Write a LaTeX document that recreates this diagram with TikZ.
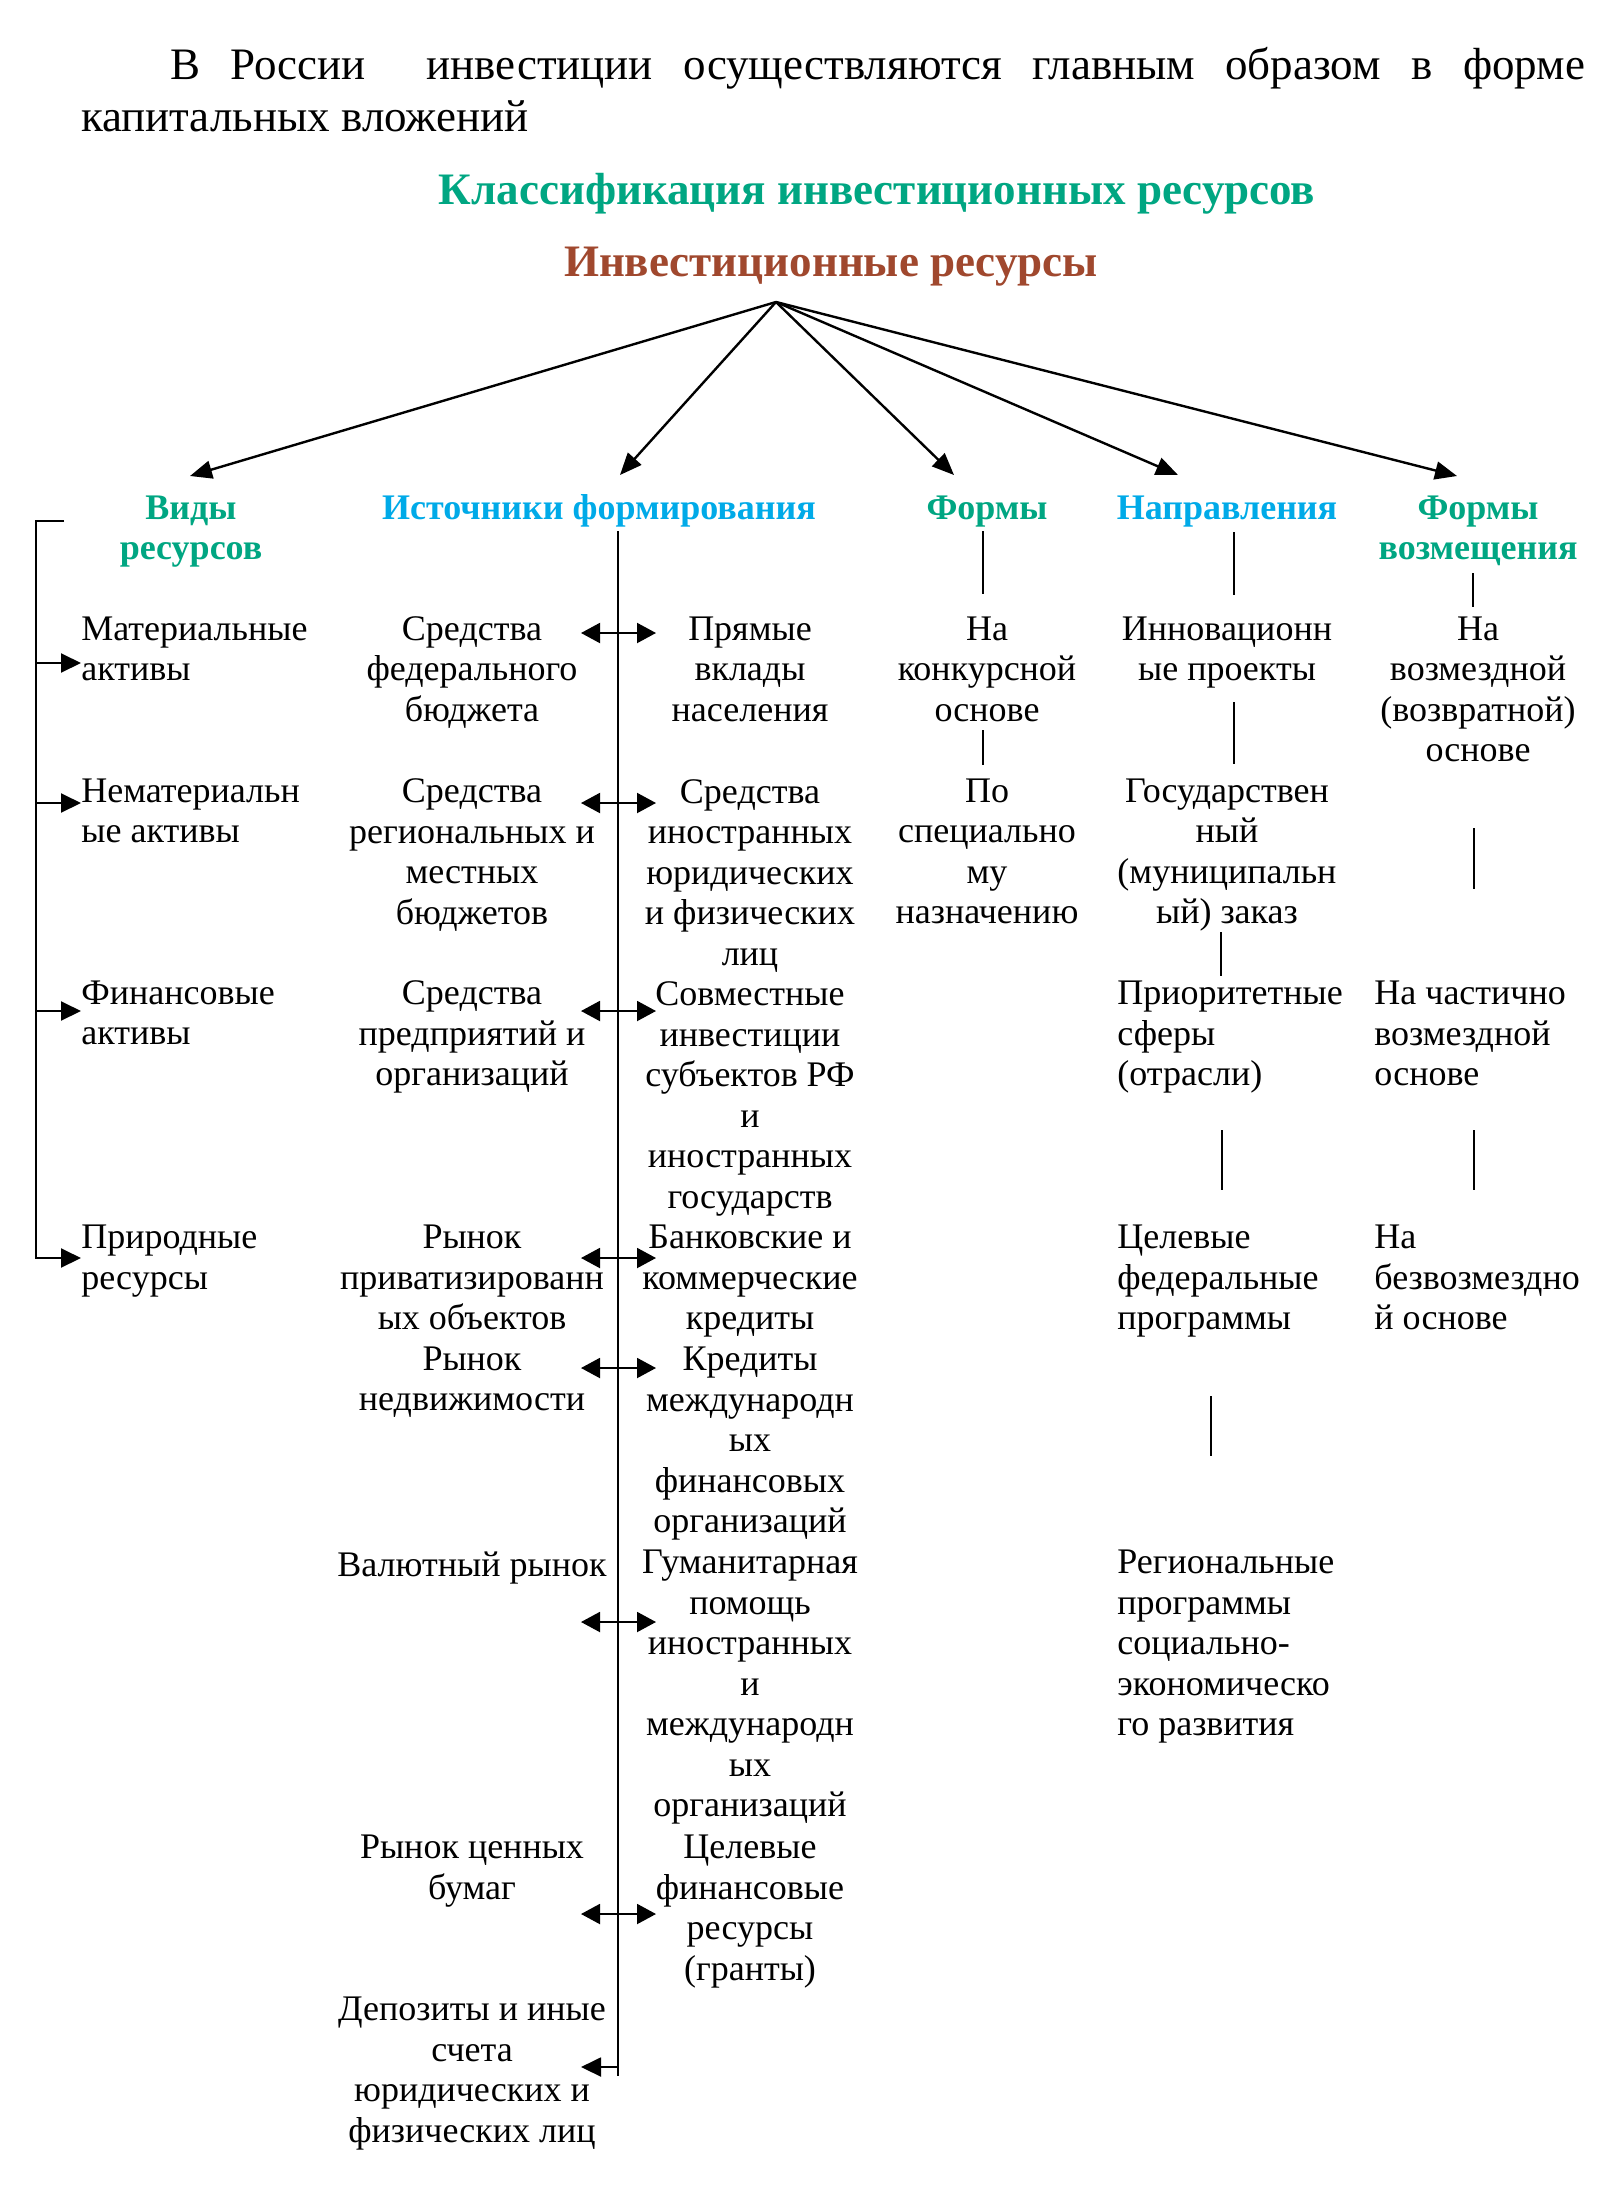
\documentclass[tikz,border=0pt]{standalone}
\usepackage{fontspec}
\setmainfont{Liberation Serif}
\usetikzlibrary{arrows.meta}
\definecolor{tgreen}{RGB}{0,166,130}
\definecolor{tcyan}{RGB}{0,170,232}
\definecolor{tbrown}{RGB}{160,72,46}
\tikzset{
  tx/.style={font=\fontsize{18}{20.25}\selectfont, align=center, inner sep=0pt, yshift=-2.5pt,
    execute at begin node=\strut, execute at end node=\strut},
  txl/.style={tx, align=left, anchor=west},
  hdr/.style={tx, font=\fontsize{18}{20.25}\selectfont\bfseries},
  ttl/.style={font=\fontsize{22.5}{26}\selectfont\bfseries, inner sep=0pt, yshift=-3pt,
    execute at begin node=\strut, execute at end node=\strut},
  ln/.style={line width=1pt},
  arr/.style={line width=1.2pt, -{Triangle[length=11pt,width=9pt]}},
  sarr/.style={line width=1pt, -{Triangle[length=10pt,width=9.5pt]}},
  darr/.style={line width=1pt, {Triangle[length=9.5pt,width=10pt]}-{Triangle[length=9.5pt,width=10pt]}}
}
\begin{document}
\begin{tikzpicture}[x=0.5pt,y=-0.5pt]
\fill[white] (0,0) rectangle (1600,2189);
\useasboundingbox (0,0) rectangle (1600,2189);

% top paragraph
\node[inner sep=0pt, text width=752pt, align=justify, font=\fontsize{22.5}{26}\selectfont] (para) at (833,90)
  {\hspace*{44.5pt}В России\ \ инвестиции осуществляются главным образом в форме\linebreak капитальных вложений};

\node[ttl, text=tgreen] (title) at (877,188) {Классификация инвестиционных ресурсов};
\node[ttl, text=tbrown] (res) at (831,260) {Инвестиционные ресурсы};

% headers
\node[hdr, text=tgreen] (hVid) at (191,529) {Виды\\ресурсов};
\node[hdr, text=tcyan] (hIst) at (599,506) {Источники формирования};
\node[hdr, text=tgreen] (hForm) at (987,506) {Формы};
\node[hdr, text=tcyan] (hNapr) at (1227,506) {Направления};
\node[hdr, text=tgreen] (hVoz) at (1478,529) {Формы\\возмещения};

% arrows from apex
\coordinate (apex) at (776,302);
\coordinate (eVid) at (190,476);
\coordinate (eIst) at (620,475);
\coordinate (eForm) at (954,475);
\coordinate (eNapr) at (1178,475);
\coordinate (eVoz) at (1457,476);
\draw[arr] (apex) -- (eVid);
\draw[arr] (apex) -- (eIst);
\draw[arr] (apex) -- (eForm);
\draw[arr] (apex) -- (eNapr);
\draw[arr] (apex) -- (eVoz);

% Виды ресурсов
\node[txl] (v1) at (81,650) {Материальные\\активы};
\node[txl] (v2) at (81,812) {Нематериальн\\ые активы};
\node[txl] (v3) at (81,1014) {Финансовые\\активы};
\node[txl] (v4) at (81,1258.5) {Природные\\ресурсы};

\coordinate (bTop) at (64,521);
\coordinate (bCorner) at (36,521);
\coordinate (b1) at (36,663);
\coordinate (b2) at (36,803);
\coordinate (b3) at (36,1011);
\coordinate (b4) at (36,1258);
\draw[sarr] (bTop) -- (bCorner) -- (b4) -- (b4 -| v4.west);
\draw[sarr] (b1) -- (b1 -| v1.west);
\draw[sarr] (b2) -- (b2 -| v2.west);
\draw[sarr] (b3) -- (b3 -| v3.west);

% Источники формирования
\coordinate (sTop) at (618,531);
\coordinate (sBot) at (618,2076);
\draw[ln] (sTop) -- (sBot);

\node[tx] (i1) at (472,670) {Средства\\федерального\\бюджета};
\node[tx] (i2) at (472,852.5) {Средства\\региональных и\\местных\\бюджетов};
\node[tx] (i3) at (472,1034.5) {Средства\\предприятий и\\организаций};
\node[tx] (i4) at (472,1278.5) {Рынок\\приватизированн\\ых объектов};
\node[tx] (i5) at (472,1380) {Рынок\\недвижимости};
\node[tx] (i6) at (472,1563) {Валютный рынок};
\node[tx] (i7) at (472,1868.5) {Рынок ценных\\бумаг};
\node[tx] (i8) at (472,2071) {Депозиты и иные\\счета\\юридических и\\физических лиц};

\node[tx] (r1) at (750,670) {Прямые\\вклады\\населения};
\node[tx] (r2) at (750,873.5) {Средства\\иностранных\\юридических\\и физических\\лиц};
\node[tx] (r3) at (750,1096) {Совместные\\инвестиции\\субъектов РФ\\и\\иностранных\\государств};
\node[tx] (r4) at (750,1278.5) {Банковские и\\коммерческие\\кредиты};
\node[tx] (r5) at (750,1441) {Кредиты\\международн\\ых\\финансовых\\организаций};
\node[tx] (r6) at (750,1684.5) {Гуманитарная\\помощь\\иностранных\\и\\международн\\ых\\организаций};
\node[tx] (r7) at (750,1909) {Целевые\\финансовые\\ресурсы\\(гранты)};

\foreach \yy/\nm in {633/d1,803/d2,1011/d3,1258/d4,1368/d5,1622/d6,1914/d7}{
  \coordinate (\nm L) at (581,\yy);
  \coordinate (\nm R) at (656,\yy);
  \draw[darr] (\nm L) -- (\nm R);
}
\coordinate (d8S) at (618,2067);
\coordinate (d8L) at (581,2067);
\draw[sarr] (d8S) -- (d8L);

% Формы
\node[tx] (f1) at (987,670) {На\\конкурсной\\основе};
\node[tx] (f2) at (987,852.5) {По\\специально\\му\\назначению};
\draw[ln] (983,531) -- (983,594);
\draw[ln] (983,730) -- (983,765);

% Направления
\node[tx] (n1) at (1227,650) {Инновационн\\ые проекты};
\node[tx] (n2) at (1227,852.5) {Государствен\\ный\\(муниципальн\\ый) заказ};
\node[txl] (n3) at (1117,1034.5) {Приоритетные\\сферы\\(отрасли)};
\node[txl] (n4) at (1117,1278.5) {Целевые\\федеральные\\программы};
\node[txl] (n5) at (1117,1644) {Региональные\\программы\\социально-\\экономическо\\го развития};
\draw[ln] (1234,532) -- (1234,595);
\draw[ln] (1234,702) -- (1234,764);
\draw[ln] (1221,932) -- (1221,976);
\draw[ln] (1222,1130) -- (1222,1190);
\draw[ln] (1211,1396) -- (1211,1456);

% Формы возмещения
\node[tx] (z1) at (1478,690.5) {На\\возмездной\\(возвратной)\\основе};
\node[txl] (z2) at (1374,1034.5) {На частично\\возмездной\\основе};
\node[txl] (z3) at (1374,1278.5) {На\\безвозмездно\\й основе};
\draw[ln] (1473,573) -- (1473,607);
\draw[ln] (1474,828) -- (1474,889);
\draw[ln] (1474,1130) -- (1474,1190);
\end{tikzpicture}
\end{document}
